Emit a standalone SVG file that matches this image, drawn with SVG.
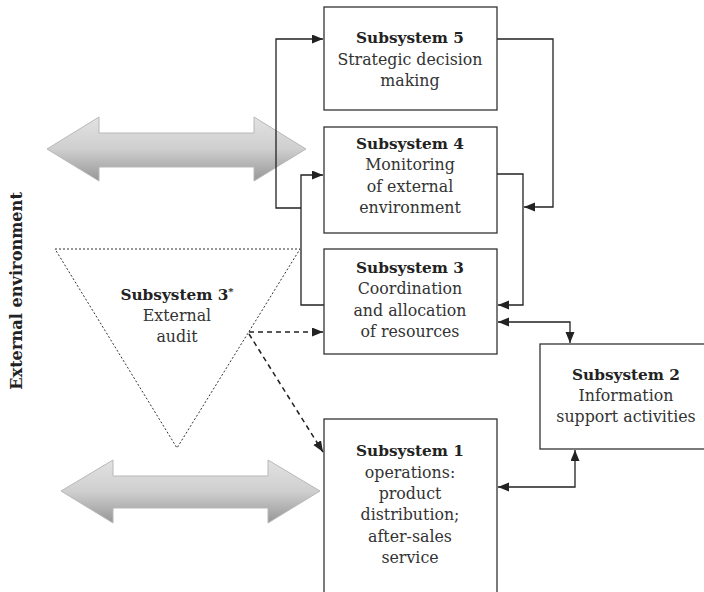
<svg xmlns="http://www.w3.org/2000/svg" width="704" height="592" viewBox="0 0 704 592">
<style>
.box{fill:#fff;stroke:#333;stroke-width:1.3}
.t{font-family:"DejaVu Serif","Liberation Serif",serif;font-size:15.8px;fill:#333;text-anchor:middle}
.b{font-weight:bold;fill:#222;font-size:15.3px}
.e{font-size:16.2px}
.c{fill:none;stroke:#222;stroke-width:1.3}
.d{fill:none;stroke:#222;stroke-width:1.5;stroke-dasharray:5,4}
.tri{fill:none;stroke:#333;stroke-width:1;stroke-dasharray:2,2}
.big{fill:url(#g);stroke:#b8b8b8;stroke-width:1}
</style>
<defs>
<linearGradient id="g" x1="0" y1="0" x2="0" y2="1">
<stop offset="0" stop-color="#e2e2e2"/>
<stop offset="0.5" stop-color="#cfcfcf"/>
<stop offset="1" stop-color="#969696"/>
</linearGradient>
<marker id="a" markerUnits="userSpaceOnUse" markerWidth="12" markerHeight="10" refX="11" refY="4.5" orient="auto-start-reverse">
<path d="M0,0 L11,4.5 L0,9 z" fill="#222"/>
</marker>
</defs>

<g id="external-environment">
<text class="t b e" transform="translate(22,291) rotate(-90)">External environment</text>
</g>

<g id="arrow-top">
<path class="big" d="M47,149 L99,117 L99,133 L254,133 L254,117 L306,149 L254,181 L254,167 L99,167 L99,181 Z"/>
</g>
<g id="arrow-bottom">
<path class="big" d="M61,491 L113,460 L113,476 L268,476 L268,460 L320,491 L268,523 L268,508 L113,508 L113,523 Z"/>
</g>

<g id="subsystem3star">
<polygon class="tri" points="55,249 300,249 177,448"/>
<text class="t b" x="177" y="300">Subsystem 3<tspan font-size="10" dy="-5">*</tspan></text>
<text class="t" x="177" y="321">External</text>
<text class="t" x="177" y="342">audit</text>
</g>

<g id="connectors">
<path class="c" d="M497,39 H553 V207 H524" marker-end="url(#a)"/>
<path class="c" d="M497,174 H523 V305 H498" marker-end="url(#a)"/>
<path class="c" d="M324,305 H301 V175 H323" marker-end="url(#a)"/>
<path class="c" d="M301,208 H276 V39 H323" marker-end="url(#a)"/>
<path class="c" d="M498,322 H570 V343" marker-start="url(#a)" marker-end="url(#a)"/>
<path class="c" d="M498,487 H575 V450" marker-start="url(#a)" marker-end="url(#a)"/>
<path class="d" d="M249,332 H323" marker-end="url(#a)"/>
<path class="d" d="M249,334 L323,452" marker-end="url(#a)"/>
</g>

<g id="subsystem5">
<rect class="box" x="324" y="7" width="173" height="103"/>
<text class="t b" x="410" y="43">Subsystem 5</text>
<text class="t" x="410" y="65">Strategic decision</text>
<text class="t" x="410" y="86">making</text>
</g>

<g id="subsystem4">
<rect class="box" x="324" y="127" width="173" height="106"/>
<text class="t b" x="410" y="149">Subsystem 4</text>
<text class="t" x="410" y="170">Monitoring</text>
<text class="t" x="410" y="192">of external</text>
<text class="t" x="410" y="213">environment</text>
</g>

<g id="subsystem3">
<rect class="box" x="324" y="249" width="173" height="105"/>
<text class="t b" x="410" y="273">Subsystem 3</text>
<text class="t" x="410" y="294">Coordination</text>
<text class="t" x="410" y="316">and allocation</text>
<text class="t" x="410" y="337">of resources</text>
</g>

<g id="subsystem2">
<rect class="box" x="540" y="344" width="173" height="105"/>
<text class="t b" x="626" y="380">Subsystem 2</text>
<text class="t" x="626" y="401">Information</text>
<text class="t" x="626" y="422">support activities</text>
</g>

<g id="subsystem1">
<rect class="box" x="324" y="419" width="173" height="190"/>
<text class="t b" x="410" y="456">Subsystem 1</text>
<text class="t" x="410" y="478">operations:</text>
<text class="t" x="410" y="499">product</text>
<text class="t" x="410" y="520">distribution;</text>
<text class="t" x="410" y="542">after-sales</text>
<text class="t" x="410" y="563">service</text>
</g>
</svg>
